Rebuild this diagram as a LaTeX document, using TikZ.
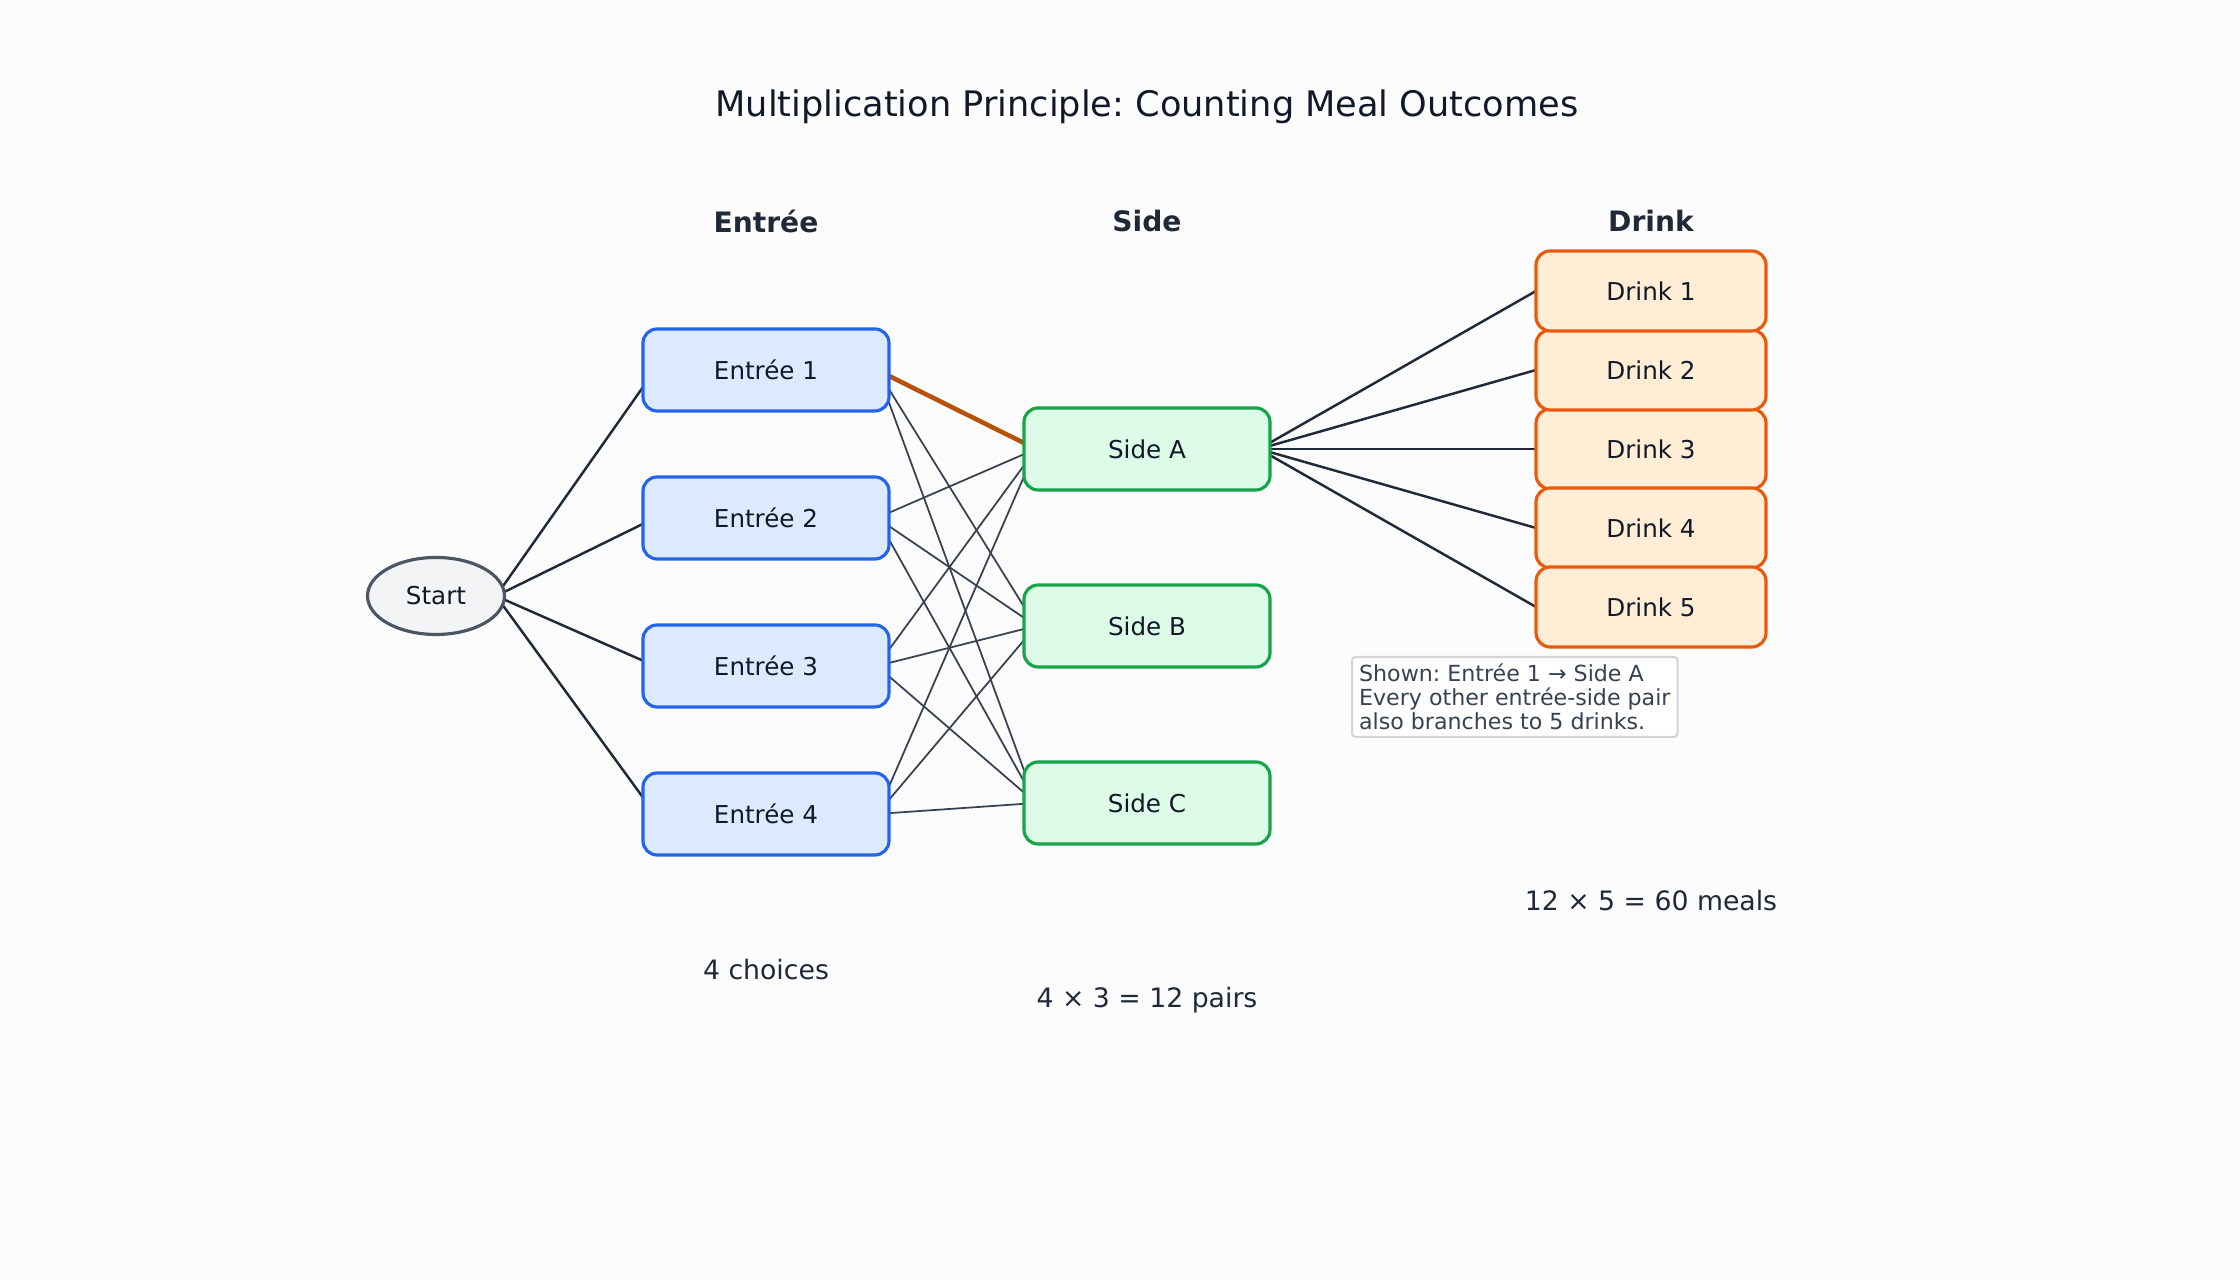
\documentclass[tikz,border=0pt]{standalone}
\usepackage{fontspec}
\setmainfont{DejaVu Sans}
\usepackage{xcolor}
\usetikzlibrary{shapes,positioning,backgrounds,calc}
\frenchspacing

\definecolor{pagebg}{HTML}{FCFCFC}
\definecolor{inkdark}{HTML}{111827}
\definecolor{headink}{HTML}{1F2937}
\definecolor{entreefill}{HTML}{DBEAFE}
\definecolor{entreeline}{HTML}{2563EB}
\definecolor{sidefill}{HTML}{DCFCE7}
\definecolor{sideline}{HTML}{16A34A}
\definecolor{drinkfill}{HTML}{FFEDD5}
\definecolor{drinkline}{HTML}{EA580C}
\definecolor{startfill}{HTML}{F3F4F6}
\definecolor{startline}{HTML}{4B5563}
\definecolor{linkdark}{HTML}{1F2937}
\definecolor{pairgray}{HTML}{374151}
\definecolor{pickorange}{HTML}{B45309}
\definecolor{noteline}{HTML}{D1D5DB}
\definecolor{noteink}{HTML}{374151}

\begin{document}
\begin{tikzpicture}[
    node distance=0.65cm,
    box/.style={rectangle, draw, line width=0.9pt, rounded corners=4pt,
        minimum height=0.82cm, outer sep=0pt, text=inkdark,
        font=\fontsize{7}{8.4}\selectfont},
    entree/.style={box, fill=entreefill, draw=entreeline, minimum width=2.46cm},
    side/.style={box, fill=sidefill, draw=sideline, minimum width=2.46cm},
    drink/.style={box, fill=drinkfill, draw=drinkline, minimum width=2.30cm,
        minimum height=0.80cm},
    colhead/.style={font=\fontsize{8}{9.6}\selectfont\bfseries, text=headink},
    tally/.style={font=\fontsize{7.6}{9}\selectfont, text=headink},
    note/.style={draw=noteline, fill=white, line width=0.6pt, rounded corners=1pt,
        align=left, inner sep=2pt, text=noteink, font=\fontsize{6.3}{6.8}\selectfont},
    link/.style={line width=0.7pt, color=linkdark},
    pair/.style={line width=0.5pt, color=pairgray},
    pick/.style={line width=1.3pt, color=pickorange}
]
    \useasboundingbox (0,0) rectangle (22.4,12.8);

    \node[font=\fontsize{10}{12}\selectfont, text=inkdark] (title) at (11.47,11.73)
        {Multiplication Principle: Counting Meal Outcomes};

    \node[colhead] (hentree) at (7.66,10.59) {Entrée};
    \node[colhead] (hside) at (11.47,10.59) {Side};
    \node[colhead] (hdrink) at (16.51,10.59) {Drink};

    \node[ellipse, draw=startline, fill=startfill, line width=0.9pt, text=inkdark,
        minimum width=1.37cm, minimum height=0.77cm, inner sep=0pt,
        font=\fontsize{7}{8.4}\selectfont] (start) at (4.36,6.84) {Start};

    \node[entree] (e1) at (7.66,9.10) {Entrée 1};
    \node[entree, below=0.66cm of e1] (e2) {Entrée 2};
    \node[entree, below=0.66cm of e2] (e3) {Entrée 3};
    \node[entree, below=0.66cm of e3] (e4) {Entrée 4};

    \node[side] (sa) at (11.47,8.31) {Side A};
    \node[side, below=0.95cm of sa] (sb) {Side B};
    \node[side, below=0.95cm of sb] (sc) {Side C};

    \node[drink, right=2.66cm of sa] (d3) {Drink 3};
    \node[drink, above=-0.01cm of d3] (d2) {Drink 2};
    \node[drink, above=-0.01cm of d2] (d1) {Drink 1};
    \node[drink, below=-0.01cm of d3] (d4) {Drink 4};
    \node[drink, below=-0.01cm of d4] (d5) {Drink 5};

    \node[note, anchor=north west] (shown) at (13.51,6.24)
        {Shown: Entrée 1 → Side A\\Every other entrée-side pair\\also branches to 5 drinks.};

    \node[tally] (nentree) at (7.66,3.10) {4 choices};
    \node[tally] (nside) at (11.47,2.80) {4 × 3 = 12 pairs};
    \node[tally] (ndrink) at (16.51,3.79) {12 × 5 = 60 meals};

    \begin{scope}[on background layer]
        \fill[pagebg] (0,0) rectangle (22.4,12.8);

        % start to entrees
        \draw[link] ([xshift=-0.1cm]start.east) -- ([xshift=0.12cm]e1.west);
        \draw[link] ([xshift=-0.1cm]start.east) -- ([xshift=0.12cm]e2.west);
        \draw[link] ([xshift=-0.1cm]start.east) -- ([xshift=0.12cm]e3.west);
        \draw[link] ([xshift=-0.1cm]start.east) -- ([xshift=0.12cm]e4.west);

        % entree-side pairs
        \draw[pick] ([xshift=-0.12cm]e1.east) -- ([xshift=0.12cm]sa.west);
        \draw[pair] ([xshift=-0.12cm]e1.east) -- ([xshift=0.12cm]sb.west);
        \draw[pair] ([xshift=-0.12cm]e1.east) -- ([xshift=0.12cm]sc.west);
        \draw[pair] ([xshift=-0.12cm]e2.east) -- ([xshift=0.12cm]sa.west);
        \draw[pair] ([xshift=-0.12cm]e2.east) -- ([xshift=0.12cm]sb.west);
        \draw[pair] ([xshift=-0.12cm]e2.east) -- ([xshift=0.12cm]sc.west);
        \draw[pair] ([xshift=-0.12cm]e3.east) -- ([xshift=0.12cm]sa.west);
        \draw[pair] ([xshift=-0.12cm]e3.east) -- ([xshift=0.12cm]sb.west);
        \draw[pair] ([xshift=-0.12cm]e3.east) -- ([xshift=0.12cm]sc.west);
        \draw[pair] ([xshift=-0.12cm]e4.east) -- ([xshift=0.12cm]sa.west);
        \draw[pair] ([xshift=-0.12cm]e4.east) -- ([xshift=0.12cm]sb.west);
        \draw[pair] ([xshift=-0.12cm]e4.east) -- ([xshift=0.12cm]sc.west);

        % side A to drinks
        \draw[link] ([xshift=-0.11cm]sa.east) -- (d1.west);
        \draw[link] ([xshift=-0.11cm]sa.east) -- (d2.west);
        \draw[link] ([xshift=-0.11cm]sa.east) -- (d3.west);
        \draw[link] ([xshift=-0.11cm]sa.east) -- (d4.west);
        \draw[link] ([xshift=-0.11cm]sa.east) -- (d5.west);
    \end{scope}
\end{tikzpicture}
\end{document}
